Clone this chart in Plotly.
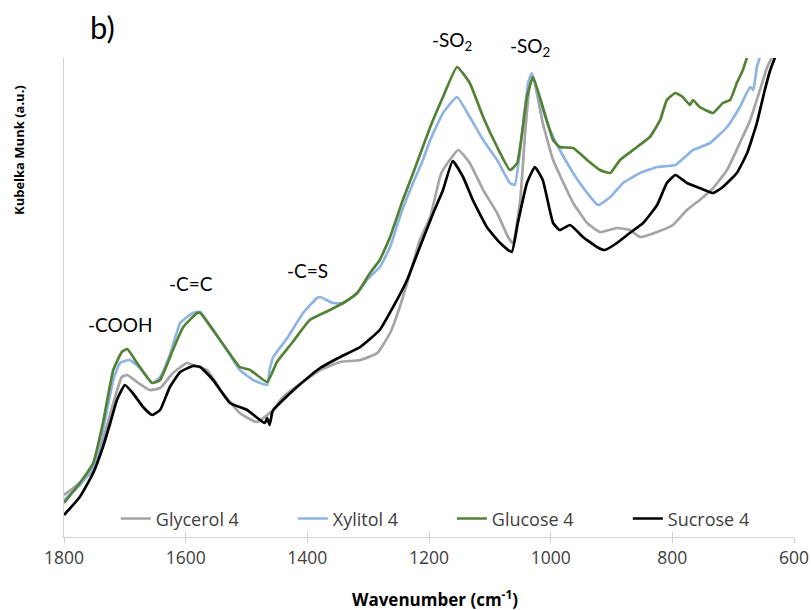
import plotly.graph_objects as go

# Wavenumber grids (cm^-1) and Kubelka-Munk intensities (a.u.) for each sample
glycerol_wn = [1800, 1774, 1752, 1736, 1719, 1705, 1696, 1680, 1659, 1642, 1621, 1598, 1588,
               1565, 1539, 1511, 1483, 1456, 1440, 1379, 1346, 1313, 1285, 1264, 1248, 1231,
               1215, 1198, 1182, 1177, 1152, 1133, 1111, 1088, 1070, 1062, 1050, 1042, 1034,
               1029, 1013, 996, 985, 963, 952, 940, 919, 891, 870, 853, 825, 799, 776, 755,
               733, 710, 689, 672, 656, 644, 636, 628]
glycerol_km = [0.42, 0.54, 0.67, 0.97, 1.34, 1.60, 1.62, 1.55, 1.47, 1.49, 1.64, 1.74, 1.72,
               1.67, 1.44, 1.24, 1.15, 1.27, 1.40, 1.67, 1.75, 1.77, 1.84, 2.04, 2.30, 2.64,
               2.97, 3.20, 3.60, 3.67, 3.87, 3.74, 3.47, 3.24, 3.00, 2.94, 3.37, 4.04, 4.54,
               4.60, 4.14, 3.77, 3.62, 3.34, 3.24, 3.14, 3.05, 3.09, 3.07, 3.00, 3.05, 3.12,
               3.27, 3.37, 3.49, 3.67, 3.94, 4.17, 4.47, 4.70, 4.80, 4.92]

xylitol_wn = [1800, 1774, 1752, 1736, 1719, 1708, 1692, 1675, 1655, 1642, 1626, 1609, 1588,
              1576, 1555, 1532, 1511, 1489, 1466, 1462, 1456, 1433, 1407, 1384, 1379, 1358,
              1341, 1318, 1302, 1281, 1264, 1248, 1231, 1210, 1198, 1177, 1154, 1133, 1111,
              1088, 1067, 1059, 1047, 1037, 1031, 1018, 1001, 985, 963, 940, 922, 902, 881,
              853, 825, 795, 766, 738, 710, 689, 672, 667, 661, 656, 650]
xylitol_km = [0.37, 0.52, 0.70, 1.07, 1.57, 1.74, 1.77, 1.69, 1.54, 1.60, 1.82, 2.14, 2.24,
              2.25, 2.07, 1.87, 1.67, 1.57, 1.52, 1.67, 1.80, 1.99, 2.24, 2.39, 2.40, 2.34,
              2.34, 2.44, 2.57, 2.70, 2.90, 3.20, 3.47, 3.77, 3.97, 4.24, 4.40, 4.20, 3.97,
              3.77, 3.54, 3.52, 4.04, 4.54, 4.64, 4.37, 4.07, 3.87, 3.64, 3.44, 3.32, 3.40,
              3.54, 3.64, 3.70, 3.72, 3.87, 3.94, 4.10, 4.30, 4.50, 4.47, 4.70, 4.80, 4.92]

glucose_wn = [1800, 1774, 1752, 1736, 1719, 1705, 1696, 1680, 1655, 1642, 1621, 1604, 1581,
              1576, 1555, 1532, 1511, 1494, 1466, 1450, 1424, 1396, 1363, 1341, 1318, 1297,
              1281, 1264, 1243, 1226, 1198, 1177, 1154, 1133, 1111, 1088, 1067, 1055, 1039,
              1029, 1013, 996, 985, 963, 940, 919, 902, 886, 858, 837, 820, 809, 795, 783,
              771, 766, 755, 733, 717, 705, 694, 684, 677, 670]
glucose_km = [0.34, 0.54, 0.74, 1.14, 1.67, 1.85, 1.88, 1.74, 1.54, 1.57, 1.87, 2.10, 2.24,
              2.24, 2.07, 1.87, 1.70, 1.67, 1.55, 1.75, 1.95, 2.17, 2.27, 2.34, 2.44, 2.64,
              2.77, 3.00, 3.37, 3.64, 4.10, 4.40, 4.70, 4.54, 4.20, 3.90, 3.67, 3.74, 4.40,
              4.60, 4.30, 3.97, 3.90, 3.89, 3.77, 3.67, 3.64, 3.77, 3.90, 4.00, 4.17, 4.37,
              4.44, 4.40, 4.32, 4.37, 4.30, 4.24, 4.34, 4.37, 4.54, 4.67, 4.80, 4.92]

sucrose_wn = [1800, 1774, 1752, 1736, 1724, 1713, 1700, 1687, 1670, 1655, 1642, 1626, 1609,
              1588, 1576, 1555, 1527, 1499, 1470, 1466, 1462, 1458, 1456, 1440, 1417, 1379,
              1346, 1313, 1281, 1259, 1236, 1215, 1193, 1177, 1161, 1144, 1128, 1105, 1083,
              1064, 1054, 1039, 1026, 1013, 996, 985, 968, 947, 924, 911, 891, 870, 848, 825,
              809, 795, 776, 755, 733, 717, 694, 677, 661, 648, 639, 631, 625]
sucrose_km = [0.22, 0.40, 0.64, 0.90, 1.14, 1.37, 1.52, 1.44, 1.30, 1.22, 1.27, 1.50, 1.65,
              1.71, 1.70, 1.57, 1.34, 1.27, 1.14, 1.19, 1.12, 1.24, 1.27, 1.37, 1.50, 1.69,
              1.80, 1.90, 2.07, 2.30, 2.57, 2.90, 3.24, 3.47, 3.76, 3.60, 3.37, 3.10, 2.94,
              2.85, 3.14, 3.54, 3.70, 3.57, 3.14, 3.07, 3.12, 3.00, 2.90, 2.87, 2.94, 3.04,
              3.14, 3.32, 3.54, 3.62, 3.54, 3.49, 3.44, 3.50, 3.64, 3.84, 4.14, 4.47, 4.67,
              4.80, 4.92]

series_names = ["Glycerol 4", "Xylitol 4", "Glucose 4", "Sucrose 4"]
series_colors = ["#A5A5A5", "#8EB4E3", "#548235", "#000000"]
legend_widths = [132, 114, 131, 85]

# Band assignments: label text and approximate wavenumber / height
band_labels = ["-COOH", "-C=C", "-C=S", "-SO<sub>2</sub>", "-SO<sub>2</sub>"]
band_wn = [1708, 1591, 1399, 1162, 1034]
band_pos = [0.443, 0.530, 0.557, 1.036, 1.024]

x_ticks = [1800, 1600, 1400, 1200, 1000, 800, 600]

fig = go.Figure()
all_wn = [glycerol_wn, xylitol_wn, glucose_wn, sucrose_wn]
all_km = [glycerol_km, xylitol_km, glucose_km, sucrose_km]
for name, color, wn, km, lw in zip(series_names, series_colors, all_wn, all_km, legend_widths):
    fig.add_trace(go.Scatter(
        x=wn, y=km, name=name, mode="lines",
        line=dict(color=color, width=2.7, shape="spline", smoothing=0.4),
        legendwidth=lw,
    ))

axis_color = "#D0D0D0"
text_color = "#404040"

fig.update_layout(
    width=811, height=610,
    margin=dict(l=64, r=17, t=58, b=73),
    paper_bgcolor="white", plot_bgcolor="white",
    font=dict(family="Open Sans", color=text_color, size=16),
    showlegend=True,
    legend=dict(
        orientation="h", x=0.071, y=0.038, xanchor="left", yanchor="middle",
        bgcolor="rgba(255,255,255,0)", font=dict(size=18, color=text_color),
        itemwidth=30,
    ),
    xaxis=dict(
        range=[1800, 600], tickvals=x_ticks, ticks="outside", ticklen=5,
        tickcolor=axis_color, showline=True, linecolor=axis_color, linewidth=1.2,
        showgrid=False, zeroline=False, tickfont=dict(size=17.5, color=text_color),
        automargin=False,
    ),
    xaxis2=dict(
        range=[1800, 600], tickvals=x_ticks, ticks="inside", ticklen=5,
        tickcolor=axis_color, overlaying="x", side="bottom", anchor="y",
        showticklabels=False, showline=False, showgrid=False, zeroline=False,
        automargin=False,
    ),
    yaxis=dict(
        range=[0, 4.79], showline=True, linecolor=axis_color, linewidth=1.2,
        showticklabels=False, ticks="", showgrid=False, zeroline=False,
        automargin=False,
    ),
)

# invisible trace to activate the overlaid axis carrying the inner tick marks
fig.add_trace(go.Scatter(x=[1800], y=[0], xaxis="x2", mode="markers",
                         marker=dict(opacity=0), showlegend=False, hoverinfo="skip"))

for text, wn, pos in zip(band_labels, band_wn, band_pos):
    fig.add_annotation(x=wn, y=pos, xref="x", yref="paper", text=text, showarrow=False,
                       font=dict(family="Lato", size=19, color="#000000"),
                       xanchor="center", yanchor="middle")

fig.add_annotation(x=(102 - 64) / 730, y=(537 - 27) / 479, xref="paper", yref="paper",
                   text="b)", showarrow=False,
                   font=dict(family="Lato", size=31, color="#000000"),
                   xanchor="center", yanchor="middle")

fig.add_annotation(x=(435 - 64) / 730, y=(537 - 598) / 479, xref="paper", yref="paper",
                   text="<b>Wavenumber (cm<sup>-1</sup>)</b>", showarrow=False,
                   font=dict(family="Open Sans", size=17, color="#000000"),
                   xanchor="center", yanchor="middle")

fig.add_annotation(x=(19 - 64) / 730, y=(537 - 150) / 479, xref="paper", yref="paper",
                   text="<b>Kubelka Munk (a.u.)</b>", textangle=-90, showarrow=False,
                   font=dict(family="Open Sans", size=13, color="#000000"),
                   xanchor="center", yanchor="middle")

fig.write_html("out.html")
